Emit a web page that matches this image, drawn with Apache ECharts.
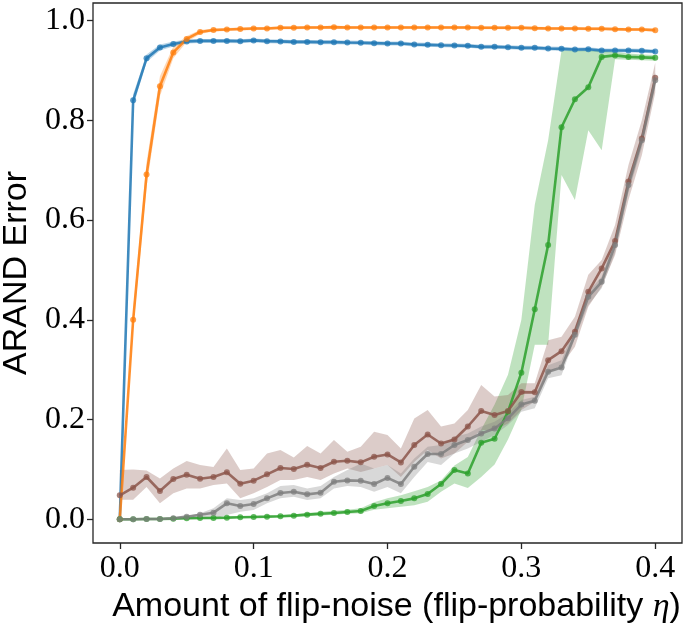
<!DOCTYPE html>
<html>
<head>
<meta charset="utf-8">
<script src="https://cdn.jsdelivr.net/npm/echarts@6/dist/echarts.min.js"></script>
<style>
html,body{margin:0;padding:0;background:#fff;}
#chart{width:685px;height:631px;}
</style>
</head>
<body>
<div id="chart"></div>
<script>
// ---- data (flip-probability eta on x) ----
const etas = [0.00,0.01,0.02,0.03,0.04,0.05,0.06,0.07,0.08,0.09,0.10,0.11,0.12,0.13,0.14,0.15,0.16,0.17,0.18,0.19,0.20,
              0.21,0.22,0.23,0.24,0.25,0.26,0.27,0.28,0.29,0.30,0.31,0.32,0.33,0.34,0.35,0.36,0.37,0.38,0.39,0.40];
const xTicks = [0.0,0.1,0.2,0.3,0.4];
const yTicks = [0.0,0.2,0.4,0.6,0.8,1.0];

const blueMean = [0.0,0.840,0.924,0.946,0.953,0.958,0.959,0.959,0.959,0.9585,0.960,0.9585,0.958,0.957,0.957,0.9565,
  0.9565,0.9558,0.9552,0.9545,0.9538,0.9538,0.9518,0.9511,0.9504,0.9498,0.9491,0.9471,0.9471,0.9464,0.9451,0.9451,
  0.9437,0.9431,0.9417,0.9424,0.9397,0.9397,0.9397,0.9391,0.9377];
const blueErr = [0,0.012,0.008,0.006,0.005,0.004,0.004,0.004,0.004,0.004,0.004,0.004,0.004,0.004,0.004,0.004,
  0.004,0.004,0.004,0.004,0.004,0.004,0.004,0.004,0.004,0.004,0.004,0.004,0.004,0.004,0.004,0.004,
  0.004,0.004,0.004,0.004,0.004,0.004,0.004,0.004,0.004];

const orangeMean = [0.0,0.40,0.691,0.868,0.936,0.963,0.977,0.981,0.982,0.983,0.984,0.984,0.9855,0.9855,0.986,0.986,
  0.9866,0.986,0.986,0.986,0.986,0.986,0.986,0.986,0.986,0.986,0.986,0.9853,0.9853,0.9853,0.9853,0.9846,0.984,0.984,0.984,
  0.9833,0.9833,0.9826,0.982,0.982,0.9806];
const orangeErr = [0,0.02,0.025,0.02,0.012,0.006,0.004,0.003,0.003,0.003,0.003,0.003,0.003,0.003,0.003,0.003,
  0.003,0.003,0.003,0.003,0.003,0.003,0.003,0.003,0.003,0.003,0.003,0.003,0.003,0.003,0.003,0.003,
  0.003,0.003,0.003,0.003,0.003,0.003,0.003,0.003,0.003];

const greenMean = [0,0,0.0007,0.0007,0.0013,0.002,0.0027,0.0027,0.0033,0.004,
  0.0047,0.0053,0.006,0.0073,0.0093,0.011,0.0125,0.0146,0.0166,0.0266,
  0.032,0.0367,0.042,0.0507,0.0707,0.0988,0.092,0.1535,0.1615,0.2156,
  0.294,0.421,0.55,0.786,0.842,0.866,0.927,0.930,0.927,0.926,0.925];
const greenLo = [0,0,0,0,0.0003,0.001,0.0015,0.0015,0.002,0.0025,
  0.003,0.0035,0.004,0.005,0.006,0.0075,0.009,0.011,0.012,0.019,
  0.022,0.025,0.028,0.035,0.055,0.072,0.063,0.085,0.11,0.16,
  0.22,0.35,0.35,0.69,0.64,0.78,0.74,0.922,0.921,0.92,0.919];
const greenHi = [0,0.001,0.0015,0.0015,0.0025,0.003,0.004,0.004,0.0045,0.0055,
  0.0065,0.007,0.008,0.0095,0.0125,0.015,0.017,0.019,0.022,0.034,
  0.042,0.048,0.056,0.065,0.078,0.108,0.125,0.18,0.23,0.29,
  0.40,0.63,0.76,0.94,0.94,0.94,0.94,0.937,0.934,0.932,0.931];

const brownMean = [0.048,0.0634,0.0848,0.0567,0.0808,0.0894,0.0814,0.0848,0.0942,0.0714,
  0.0774,0.0901,0.1028,0.1008,0.1094,0.1028,0.1154,0.1174,0.1142,0.1254,
  0.130,0.114,0.149,0.170,0.152,0.160,0.186,0.217,0.209,0.217,
  0.255,0.2545,0.319,0.337,0.376,0.456,0.503,0.558,0.677,0.7635,0.885];
const brownLo = [0.039,0.039,0.065,0.032,0.052,0.062,0.062,0.069,0.072,0.042,
  0.052,0.065,0.0788,0.0788,0.085,0.0788,0.092,0.102,0.095,0.102,
  0.109,0.085,0.115,0.139,0.122,0.132,0.1556,0.179,0.179,0.192,
  0.219,0.2357,0.2926,0.309,0.346,0.426,0.466,0.53,0.64,0.73,0.855];
const brownHi = [0.099,0.100,0.098,0.082,0.102,0.117,0.109,0.105,0.142,0.099,
  0.102,0.132,0.139,0.124,0.147,0.132,0.159,0.1355,0.1455,0.1756,
  0.169,0.142,0.202,0.219,0.186,0.192,0.219,0.269,0.246,0.249,
  0.2725,0.2725,0.359,0.366,0.406,0.49,0.52,0.59,0.71,0.80,0.915];

const grayMean = [0,0,0.0007,0.0007,0.002,0.0053,0.0093,0.0133,0.032,0.0267,
  0.0307,0.042,0.0527,0.0554,0.050,0.0534,0.0754,0.0780,0.0774,0.0707,
  0.083,0.0707,0.1054,0.131,0.131,0.149,0.159,0.172,0.182,0.2024,
  0.230,0.2377,0.296,0.3045,0.370,0.446,0.476,0.550,0.670,0.760,0.880];
const grayLo = [0,0,0,0,0,0,0,0.001,0.0086,0.015,
  0.0187,0.032,0.042,0.0453,0.0387,0.042,0.062,0.0667,0.065,0.055,
  0.065,0.052,0.085,0.115,0.109,0.132,0.142,0.1556,0.169,0.189,
  0.2157,0.2224,0.2826,0.289,0.363,0.4295,0.463,0.535,0.655,0.745,0.865];
const grayHi = [0.001,0.001,0.002,0.002,0.004,0.0066,0.012,0.022,0.042,0.0387,
  0.042,0.052,0.0667,0.0687,0.062,0.0667,0.085,0.0988,0.112,0.102,
  0.109,0.092,0.122,0.1455,0.149,0.1656,0.172,0.186,0.1956,0.2124,
  0.239,0.2457,0.309,0.319,0.386,0.456,0.486,0.565,0.685,0.775,0.895];

const COLORS = {blue:'#1f77b4', orange:'#ff7f0e', green:'#2ca02c', brown:'#8c564b', gray:'#7f7f7f'};

// ---- helpers ----
function pairs(ys){ return etas.map((x,i)=>[x, ys[i]]); }

function bandSeries(lo, hi, color){
  return {
    type:'custom', silent:true, z:1,
    data:[[etas[0], lo[0]]],
    encode:{x:0, y:1},
    renderItem:function(params, api){
      const pts=[];
      for(let i=0;i<etas.length;i++) pts.push(api.coord([etas[i], hi[i]]));
      for(let i=etas.length-1;i>=0;i--) pts.push(api.coord([etas[i], lo[i]]));
      return {type:'polygon', shape:{points:pts}, style:{fill:color, opacity:0.3}};
    }
  };
}
function lineSeries(ys, color, z){
  return {
    type:'line', data:pairs(ys), z:z, silent:true,
    symbol:'circle', symbolSize:6, showSymbol:true, showAllSymbol:true,
    itemStyle:{color:color, opacity:0.75},
    lineStyle:{color:color, width:2.6, opacity:0.85},
    emphasis:{disabled:true}
  };
}

const chart = echarts.init(document.getElementById('chart'), null, {renderer:'canvas'});
const option = {
  animation:false,
  backgroundColor:'#ffffff',
  grid:{left:93, right:3, top:3, bottom:88, show:true, borderColor:'#262626', borderWidth:1.3,
        backgroundColor:'transparent', containLabel:false, outerBoundsMode:'none'},
  xAxis:{
    type:'value', min:-0.02, max:0.42,
    name:'{a|Amount of flip-noise (flip-probability }{b|η}{a|)}',
    nameLocation:'middle', nameGap:44,
    nameTextStyle:{
      padding:[0,0,0,18],
      rich:{
        a:{fontFamily:'Liberation Sans', fontSize:34, color:'#000'},
        b:{fontFamily:'Liberation Serif', fontStyle:'italic', fontSize:34, color:'#000'}
      }
    },
    axisLine:{show:false, onZero:false},
    splitLine:{show:false},
    axisTick:{show:true, inside:false, length:6, customValues:xTicks, lineStyle:{color:'#262626', width:1.3}},
    axisLabel:{customValues:xTicks, margin:10, fontFamily:'Liberation Serif', fontSize:32, color:'#000',
      formatter:function(v){return v.toFixed(1);}}
  },
  yAxis:{
    type:'value', min:-0.0475, max:1.035,
    name:'ARAND Error', nameLocation:'middle', nameGap:52,
    nameTextStyle:{fontFamily:'Liberation Sans', fontSize:34, color:'#000'},
    axisLine:{show:false, onZero:false},
    splitLine:{show:false},
    axisTick:{show:true, inside:false, length:6, customValues:yTicks, lineStyle:{color:'#262626', width:1.3}},
    axisLabel:{customValues:yTicks, margin:8, fontFamily:'Liberation Serif', fontSize:32, color:'#000',
      formatter:function(v){return v.toFixed(1);}}
  },
  series:[
    bandSeries(etas.map((x,i)=>blueMean[i]-blueErr[i]), etas.map((x,i)=>blueMean[i]+blueErr[i]), COLORS.blue),
    bandSeries(etas.map((x,i)=>orangeMean[i]-orangeErr[i]), etas.map((x,i)=>orangeMean[i]+orangeErr[i]), COLORS.orange),
    bandSeries(greenLo, greenHi, COLORS.green),
    bandSeries(brownLo, brownHi, COLORS.brown),
    bandSeries(grayLo, grayHi, COLORS.gray),
    lineSeries(blueMean, COLORS.blue, 3),
    lineSeries(orangeMean, COLORS.orange, 3),
    lineSeries(greenMean, COLORS.green, 3),
    lineSeries(brownMean, COLORS.brown, 3),
    lineSeries(grayMean, COLORS.gray, 3)
  ]
};
chart.setOption(option);
</script>
</body>
</html>
